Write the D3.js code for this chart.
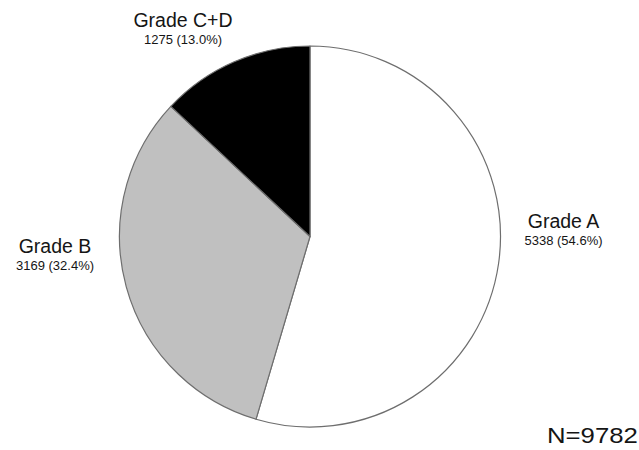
<!DOCTYPE html>
<html>
<head>
<meta charset="utf-8">
<script src="https://cdn.jsdelivr.net/npm/d3@7"></script>
<style>
  html, body { margin: 0; padding: 0; background: #fff; }
  svg { display: block; }
  text { font-family: "Liberation Sans", Arial, sans-serif; fill: #151515; }
</style>
</head>
<body>
<svg id="chart" width="639" height="450"></svg>
<script>
const categories = ["Grade A", "Grade B", "Grade C+D"];
const counts = [5338, 3169, 1275];
const percents = ["54.6%", "32.4%", "13.0%"];
const fills = ["#ffffff", "#c0c0c0", "#000000"];
const total = 9782;

const svg = d3.select("#chart");
const cx = 310, cy = 236.5, r = 190.5;

const pie = d3.pie().sort(null).value(d => d.value);
const data = categories.map((c, i) => ({ name: c, value: counts[i], pct: percents[i], fill: fills[i] }));
const arcs = pie(data);
const arc = d3.arc().innerRadius(0).outerRadius(r);

const g = svg.append("g").attr("transform", `translate(${cx},${cy})`);
g.selectAll("path.slice")
  .data(arcs)
  .enter().append("path")
  .attr("class", "slice")
  .attr("d", arc)
  .attr("fill", d => d.data.fill)
  .attr("stroke", "#6e6e6e")
  .attr("stroke-width", 1.2)
  .attr("stroke-linejoin", "round");

// label layout (positions relative to the pie center)
const labelPos = {
  "Grade A": [253.5, -8.5],
  "Grade B": [-255, 16.5],
  "Grade C+D": [-127, -209.5]
};

const lg = svg.append("g").attr("transform", `translate(${cx},${cy})`);
arcs.forEach(d => {
  const [x, y] = labelPos[d.data.name];
  lg.append("text")
    .attr("x", x).attr("y", y)
    .attr("text-anchor", "middle")
    .attr("font-size", 19.5)
    .text(d.data.name);
  lg.append("text")
    .attr("x", x).attr("y", y + 17)
    .attr("text-anchor", "middle")
    .attr("font-size", 13)
    .text(`${d3.format("d")(d.data.value)} (${d.data.pct})`);
});

svg.append("text")
  .attr("transform", "translate(547,443) scale(1.17,1)")
  .attr("font-size", 22)
  .text(`N=${total}`);
</script>
</body>
</html>
